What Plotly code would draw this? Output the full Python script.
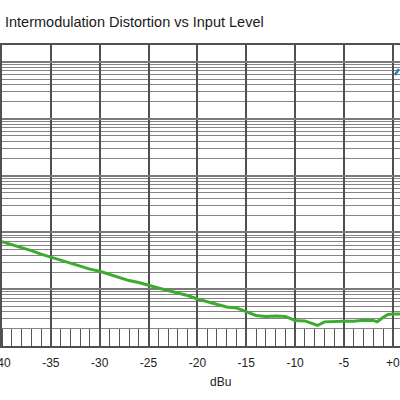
import plotly.graph_objects as go

# Input level (dBu)
level_dbu = [-40, -39, -38, -37, -36, -35, -34, -33, -32, -31, -30, -29, -28, -27, -26,
             -25, -24, -23, -22, -21, -20, -19, -18, -17, -16, -15, -14, -13, -12, -11,
             -10, -9, -8, -7.7, -7, -6, -5, -4, -3, -2, -1.6, -1, -0.5, 0, 0.5, 1]
# IMD (%)
imd_pct = [0.00689, 0.00611, 0.00552, 0.00479, 0.00416, 0.00368, 0.00319, 0.00283,
           0.00251, 0.00226, 0.00207, 0.00181, 0.00161, 0.00142, 0.00131, 0.00119,
           0.00105, 0.000948, 0.000857, 0.000774, 0.000673, 0.000608, 0.000538,
           0.000486, 0.000468, 0.000406, 0.000345, 0.000331, 0.000338, 0.000331,
           0.000282, 0.000276, 0.000244, 0.000230, 0.000266, 0.000274, 0.000274,
           0.000274, 0.000285, 0.000282, 0.000267, 0.000318, 0.000359, 0.000366,
           0.000366, 0.000366]

# second series, only its start is visible at the right edge
level2_dbu = [0.22, 0.63]
imd2_pct = [5.93, 7.57]

x_tick_vals = [-40, -35, -30, -25, -20, -15, -10, -5, 0]
x_tick_text = ["-40", "-35", "-30", "-25", "-20", "-15", "-10", "-5", "+0"]

title_text = "Intermodulation Distortion vs Input Level"
x_title = "dBu"

decades = [1e-4, 1e-3, 1e-2, 1e-1, 1, 10]
minor_vals = [d * m for d in decades for m in range(2, 10) if d * m <= 20]

fig = go.Figure()
fig.add_trace(go.Scatter(x=level_dbu, y=imd_pct, mode="lines",
                         line=dict(color="#3dab2f", width=3), showlegend=False))
fig.add_trace(go.Scatter(x=level2_dbu, y=imd2_pct, mode="lines",
                         line=dict(color="#2a7db5", width=2.5), showlegend=False))

fig.update_layout(
    width=400, height=400,
    margin=dict(l=2, r=0, t=45, b=54, autoexpand=False),
    paper_bgcolor="white", plot_bgcolor="white",
    font=dict(family="Liberation Sans, Arial, sans-serif", color="#222", size=12),
    annotations=[
        dict(text=title_text, xref="paper", yref="paper",
             x=(3 - 2) / 398, y=1 + (45 - 22.5) / 301, showarrow=False,
             xanchor="left", yanchor="middle", font=dict(size=14.5, color="#1a1a1a")),
        dict(text=x_title, xref="paper", yref="paper",
             x=(220 - 2) / 398, y=-(382 - 346) / 301, showarrow=False,
             xanchor="center", yanchor="middle", font=dict(size=12, color="#222")),
    ],
)

fig.update_xaxes(
    range=[-40, 0.74], tickvals=x_tick_vals, ticktext=x_tick_text,
    showgrid=True, gridcolor="#505050", gridwidth=1.5,
    ticks="", showline=True, linecolor="#505050", linewidth=1.5, mirror=True,
    zeroline=False, tickfont=dict(size=12, color="#222"),
    ticklabeloverflow="allow", ticklabelstandoff=5, automargin=False,
    minor=dict(dtick=1, tick0=0, ticks="inside", ticklen=17, tickcolor="#555555",
               tickwidth=1, showgrid=False),
)
fig.update_yaxes(
    type="log", range=[-4, 1.30103], tickvals=decades, automargin=False,
    showgrid=True, gridcolor="#7a7a7a", gridwidth=2,
    showticklabels=False, ticks="", showline=True, linecolor="#505050", linewidth=1.5,
    zeroline=False,
    minor=dict(tickvals=minor_vals, showgrid=True, gridcolor="#858585", gridwidth=1.2,
               ticks=""),
)

fig.write_html("out.html")
